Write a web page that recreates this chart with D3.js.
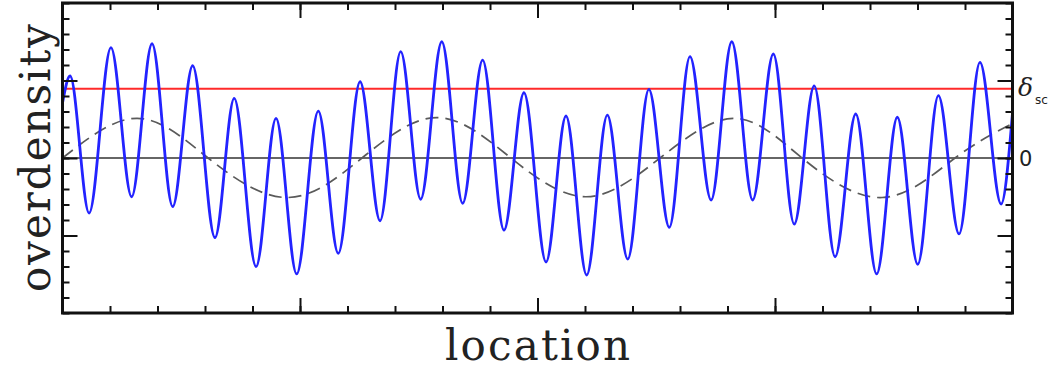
<!DOCTYPE html>
<html>
<head>
<meta charset="utf-8">
<script src="https://cdn.jsdelivr.net/npm/d3@7"></script>
<style>
  html, body { margin: 0; padding: 0; background: #fff; }
  #chart { width: 1058px; height: 370px; }
</style>
</head>
<body>
<div id="chart"></div>
<script>
// Oscillating field (extrema): location, overdensity
const waveX = [0, 0.032, 0.112, 0.204, 0.291, 0.377, 0.464, 0.548, 0.642, 0.723,
    0.815, 0.899, 0.986, 1.077, 1.161, 1.253, 1.337, 1.424, 1.508, 1.597,
    1.685, 1.769, 1.859, 1.943, 2.036, 2.120, 2.207, 2.294, 2.380, 2.469,
    2.555, 2.642, 2.731, 2.818, 2.906, 2.993, 3.081, 3.165, 3.253, 3.340,
    3.428, 3.515, 3.601, 3.688, 3.775, 3.863, 3.952, 4];
const waveY = [0.355, 0.529, -0.355, 0.712, -0.250, 0.737, -0.314, 0.595, -0.514, 0.385,
    -0.701, 0.256, -0.748, 0.303, -0.615, 0.492, -0.405, 0.686, -0.266, 0.750,
    -0.292, 0.632, -0.465, 0.421, -0.671, 0.271, -0.755, 0.277, -0.652, 0.443,
    -0.447, 0.654, -0.271, 0.750, -0.271, 0.671, -0.426, 0.465, -0.637, 0.284,
    -0.748, 0.263, -0.686, 0.402, -0.490, 0.617, -0.297, 0.290];

// Long wavelength mode (dashed): peaks, troughs and zero crossings
const longX = [0, 0.314, 0.613, 0.945, 1.261, 1.577, 1.888, 2.204, 2.516, 2.827, 3.114, 3.451, 3.758, 4];
const longY = [0, 0.256, 0, -0.255, 0, 0.261, 0, -0.250, 0, 0.256, 0, -0.255, 0, 0.223];

// Threshold level
const deltaSc = 0.447;

// Axis ticks (no tick labels in the figure)
const xMinorTicks = d3.range(0, 4.001, 0.2);
const xMajorTicks = [1, 2, 3];
const yMinorTicks = d3.range(-1, 1.001, 0.1);
const yMajorTicks = [-0.5, 0, 0.5];

const width = 1058;
const height = 370;
const plotLeft = 62.5, plotRight = 1012.5, plotTop = 3, plotBottom = 313;

const svg = d3.select('#chart')
    .append('svg')
    .attr('width', width)
    .attr('height', height);

const x = d3.scaleLinear().domain([0, 4]).range([plotLeft, plotRight]);
const y = d3.scaleLinear().domain([-1, 1]).range([plotBottom, plotTop]);

svg.append('clipPath')
    .attr('id', 'plotClip')
    .append('rect')
    .attr('x', plotLeft)
    .attr('y', plotTop)
    .attr('width', plotRight - plotLeft)
    .attr('height', plotBottom - plotTop);

const plot = svg.append('g').attr('clip-path', 'url(#plotClip)');

// zero line
plot.append('line')
    .attr('x1', x(0)).attr('x2', x(4))
    .attr('y1', y(0)).attr('y2', y(0))
    .attr('stroke', '#333')
    .attr('stroke-width', 1.3);

// delta_sc line
plot.append('line')
    .attr('x1', x(0)).attr('x2', x(4))
    .attr('y1', y(deltaSc)).attr('y2', y(deltaSc))
    .attr('stroke', '#ff2a2a')
    .attr('stroke-width', 2);

// dashed long mode
const longLine = d3.line()
    .x(function(d, i) { return x(longX[i]); })
    .y(function(d) { return y(d); })
    .curve(d3.curveNatural);

plot.append('path')
    .attr('d', longLine(longY))
    .attr('fill', 'none')
    .attr('stroke', '#5a5a5a')
    .attr('stroke-width', 1.7)
    .attr('stroke-dasharray', '13,7');

// blue field
const waveLine = d3.line()
    .x(function(d, i) { return x(waveX[i]); })
    .y(function(d) { return y(d); })
    .curve(d3.curveMonotoneX);

plot.append('path')
    .attr('d', waveLine(waveY))
    .attr('fill', 'none')
    .attr('stroke', '#2323ff')
    .attr('stroke-width', 2.8);

// ticks on all four sides, pointing inward
function drawTicks(axis, translate) {
    const g = svg.append('g')
        .attr('transform', translate)
        .call(axis);
    g.select('.domain').remove();
    g.selectAll('.tick line')
        .attr('stroke', '#111')
        .attr('stroke-width', 2);
    g.selectAll('.tick text').remove();
}

const sides = [
    { make: d3.axisBottom, scale: x, minor: xMinorTicks, major: xMajorTicks, at: 'translate(0,' + plotBottom + ')' },
    { make: d3.axisTop, scale: x, minor: xMinorTicks, major: xMajorTicks, at: 'translate(0,' + plotTop + ')' },
    { make: d3.axisLeft, scale: y, minor: yMinorTicks, major: yMajorTicks, at: 'translate(' + plotLeft + ',0)' },
    { make: d3.axisRight, scale: y, minor: yMinorTicks, major: yMajorTicks, at: 'translate(' + plotRight + ',0)' }
];

sides.forEach(function(s) {
    drawTicks(s.make(s.scale).tickValues(s.minor).tickSize(-7).tickFormat(''), s.at);
    drawTicks(s.make(s.scale).tickValues(s.major).tickSize(-15).tickFormat(''), s.at);
});

// frame
svg.append('rect')
    .attr('x', plotLeft)
    .attr('y', plotTop)
    .attr('width', plotRight - plotLeft)
    .attr('height', plotBottom - plotTop)
    .attr('fill', 'none')
    .attr('stroke', '#111')
    .attr('stroke-width', 3);

// axis titles
svg.append('text')
    .attr('transform', 'translate(50,' + ((plotTop + plotBottom) / 2) + ') rotate(-90)')
    .attr('text-anchor', 'middle')
    .attr('font-family', 'DejaVu Serif')
    .attr('font-size', '42px')
    .attr('fill', '#222')
    .attr('textLength', 268)
    .attr('lengthAdjust', 'spacing')
    .text('overdensity');

svg.append('text')
    .attr('x', (plotLeft + plotRight) / 2)
    .attr('y', 360)
    .attr('text-anchor', 'middle')
    .attr('font-family', 'DejaVu Serif')
    .attr('font-size', '42px')
    .attr('fill', '#222')
    .attr('textLength', 185)
    .attr('lengthAdjust', 'spacing')
    .text('location');

// right-hand level labels
const dLabel = svg.append('text')
    .attr('x', 1018)
    .attr('y', y(deltaSc) + 7)
    .attr('font-family', 'DejaVu Serif')
    .attr('font-style', 'italic')
    .attr('font-size', '25px')
    .attr('fill', '#222');
dLabel.append('tspan').text('δ');
dLabel.append('tspan')
    .attr('dx', 2)
    .attr('dy', 8)
    .attr('font-family', 'DejaVu Sans')
    .attr('font-style', 'normal')
    .attr('font-size', '12px')
    .text('sc');

svg.append('text')
    .attr('x', 1019)
    .attr('y', y(0) + 7.5)
    .attr('font-family', 'DejaVu Sans')
    .attr('font-size', '21px')
    .attr('fill', '#222')
    .text('0');
</script>
</body>
</html>
